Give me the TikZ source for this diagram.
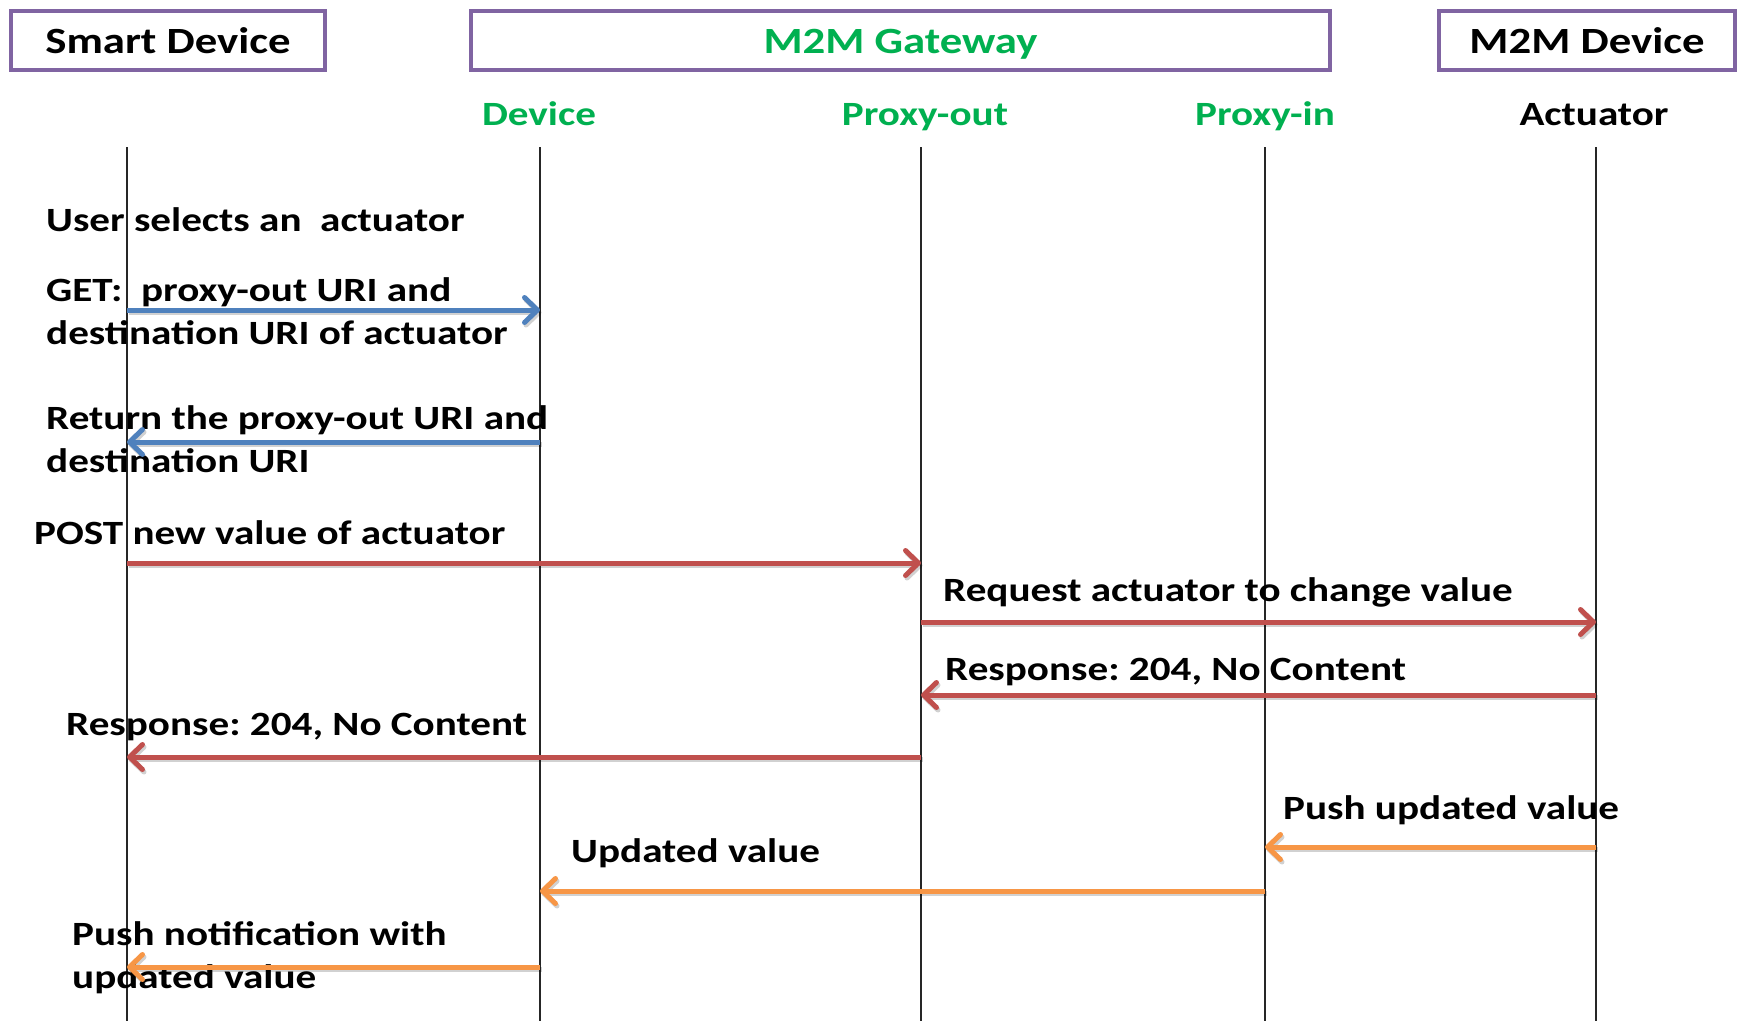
\documentclass[tikz,border=0pt]{standalone}
\usepackage{fontspec}
\setmainfont{Carlito}[FakeStretch=1.21]
\usetikzlibrary{arrows.meta}
\definecolor{boxpurple}{HTML}{8064A2}
\definecolor{titlegreen}{HTML}{00B050}
\definecolor{msgblue}{HTML}{4F81BD}
\definecolor{msgred}{HTML}{C0504D}
\definecolor{msgorange}{HTML}{F79646}
\tikzset{
  party/.style={draw=boxpurple, line width=4pt, minimum height=59pt, inner sep=0pt,
    text height=26pt, text depth=0pt,
    font=\fontsize{37}{45}\selectfont\bfseries},
  role/.style={font=\fontsize{34}{40}\selectfont\bfseries, inner sep=0pt,
    text height=24pt, text depth=0pt},
  lifeline/.style={line width=2pt, draw=black!85},
  msg/.style={font=\frenchspacing\fontsize{34}{43}\selectfont\bfseries, inner sep=0pt,
    anchor=west, align=left},
  msgarrow/.style={line width=5pt,
    -{Straight Barb[length=13pt, width=25pt, line width=5pt, round]}},
  msgshadow/.style={msgarrow, draw=black, draw opacity=0.18,
    transform canvas={xshift=1.5pt, yshift=-2.5pt}},
}
\newcommand{\msgline}[3]{%
  \draw[msgshadow] #2 -- #3;
  \draw[msgarrow, draw=#1] #2 -- #3;}
\begin{document}
\begin{tikzpicture}[x=1pt, y=-1pt]
\useasboundingbox (0,0) rectangle (1738,1021);
\fill[white] (0,0) rectangle (1738,1021);

% participant boxes
\node[party, minimum width=314pt] (smart) at (168,40.5) {Smart Device};
\node[party, minimum width=859pt, text=titlegreen] (gw) at (900.5,40.5) {M2M Gateway};
\node[party, minimum width=296pt] (m2m) at (1587,40.5) {M2M Device};

% role labels
\node[role, text=titlegreen] (devl) at (539,113) {Device};
\node[role, text=titlegreen] (poutl) at (925,113) {Proxy-out};
\node[role, text=titlegreen] (pinl) at (1265,113) {Proxy-in};
\node[role] (actl) at (1594,113) {Actuator};

% lifelines
\coordinate (sdT) at (127,147);  \coordinate (sdB) at (127,1021);
\coordinate (dvT) at (540,147);  \coordinate (dvB) at (540,1021);
\coordinate (poT) at (921,147);  \coordinate (poB) at (921,1021);
\coordinate (piT) at (1265,147); \coordinate (piB) at (1265,1021);
\coordinate (acT) at (1596,147); \coordinate (acB) at (1596,1021);
\foreach \l in {sd,dv,po,pi,ac} \draw[lifeline] (\l T) -- (\l B);

% message texts
\node[msg] (t1) at (46,220) {User selects an~~actuator};
\node[msg] (t2) at (46,311) {GET:~~proxy-out URI and\\destination URI of actuator};
\node[msg] (t3) at (46,439) {Return the proxy-out URI and\\destination URI};
\node[msg] (t4) at (34,533) {POST new value of actuator};
\node[msg] (t5) at (943,592) {Request actuator to change value};
\node[msg] (t6) at (945,672) {Response: 204, No Content};
\node[msg] (t7) at (66,727) {Response: 204, No Content};
\node[msg] (t8) at (1283,810) {Push updated value};
\node[msg] (t9) at (571,853) {Updated value};
\node[msg] (t10) at (72,958) {Push notification with\\updated value};

% messages
\msgline{msgblue}{(sdT |- 0,310)}{(dvT |- 0,310)}
\msgline{msgblue}{(dvT |- 0,442)}{(sdT |- 0,442)}
\msgline{msgred}{(sdT |- 0,563)}{(poT |- 0,563)}
\msgline{msgred}{(poT |- 0,622)}{(acT |- 0,622)}
\msgline{msgred}{(acT |- 0,695)}{(poT |- 0,695)}
\msgline{msgred}{(poT |- 0,757)}{(sdT |- 0,757)}
\msgline{msgorange}{(acT |- 0,847)}{(piT |- 0,847)}
\msgline{msgorange}{(piT |- 0,891)}{(dvT |- 0,891)}
\msgline{msgorange}{(dvT |- 0,967)}{(sdT |- 0,967)}
\end{tikzpicture}
\end{document}
